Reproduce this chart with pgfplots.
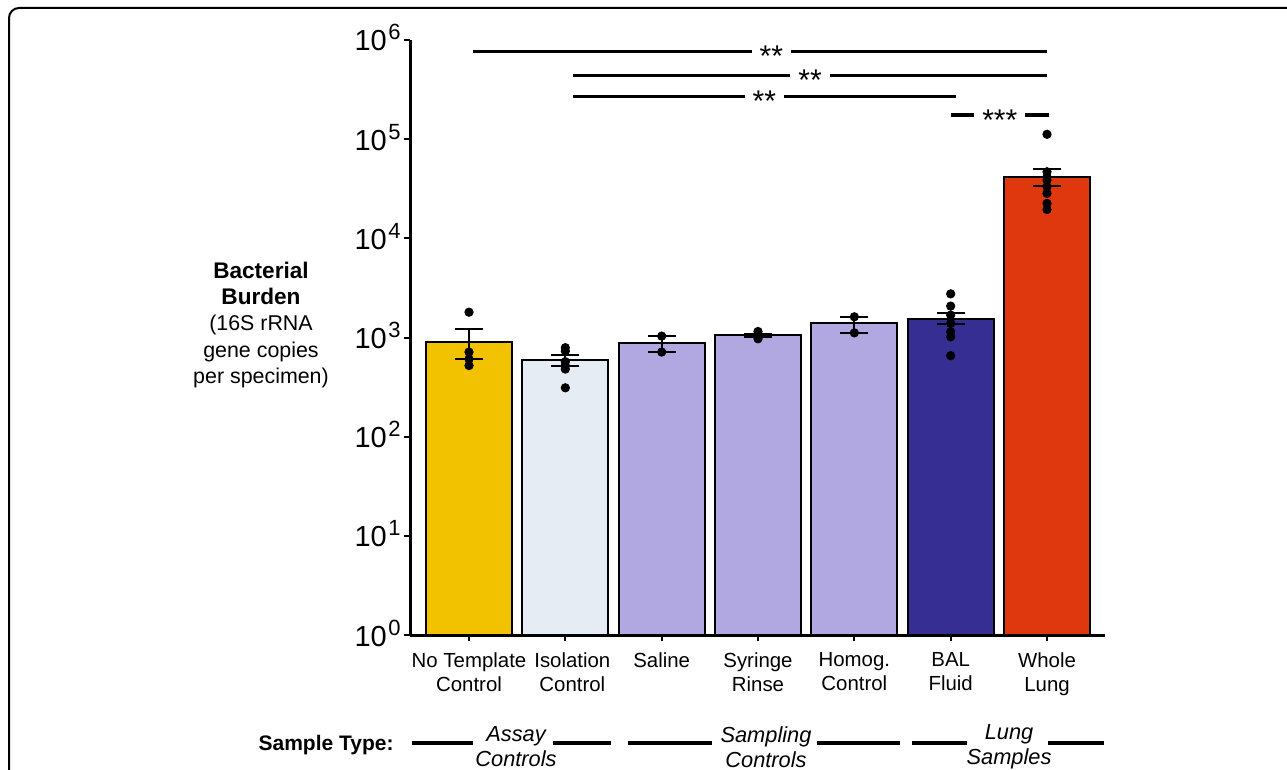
\documentclass[border=0pt]{standalone}
\usepackage{fontspec}
\setmainfont{Liberation Sans}
\usepackage{pgfplots}
\pgfplotsset{compat=1.18}
\definecolor{cGold}{RGB}{242,193,0}
\definecolor{cLight}{RGB}{229,236,244}
\definecolor{cLav}{RGB}{177,167,225}
\definecolor{cNavy}{RGB}{55,46,148}
\definecolor{cRed}{RGB}{224,56,14}
\newcommand{\tp}[1]{10\raisebox{5.5pt}{\fontsize{11}{11}\selectfont\kern0.8pt#1}}
\begin{document}
\begin{tikzpicture}
\useasboundingbox (0,0) rectangle (643.5pt,-385pt);
\begin{scope}[x=0.5pt,y=-0.5pt]
  \draw[line width=1pt, rounded corners=5pt] (9,900) -- (9,8) -- (1400,8);
\end{scope}
\begin{axis}[
 at={(205pt,-317.5pt)}, anchor=south west,
 scale only axis, width=347.5pt, height=297.5pt,
 ymode=log, ymin=1, ymax=1e6,
 xmin=-0.6125, xmax=6.602,
 axis x line*=bottom, axis y line*=left,
 axis line style={line width=1.5pt, -},
 tick align=outside, major tick length=3pt,
 tick style={line width=1pt, black},
 yminorticks=false,
 ytick={1,10,100,1000,10000,100000,1000000},
 yticklabels={\tp{0},\tp{1},\tp{2},\tp{3},\tp{4},\tp{5},\tp{6}},
 yticklabel style={font=\fontsize{14.5}{14.5}\selectfont, anchor=base east, inner sep=0pt, yshift=-5.5pt, xshift=-1.5pt},
 xtick={0,...,6},
 xticklabels={{No Template\\Control},{\hspace{7pt}Isolation\\\hspace{7pt}Control},Saline,{Syringe\\Rinse},{Homog.\\Control},{BAL\\Fluid},{Whole\\Lung}},
 xticklabel style={font=\fontsize{10.2}{12}\selectfont, align=center, anchor=north, inner sep=0pt, yshift=-5.5pt},
 clip=false,
]
% bars
\addplot[ybar, bar width=0.893, bar shift=0pt, fill=cGold, draw=black, line width=1pt] coordinates {(0,900)};
\addplot[ybar, bar width=0.893, bar shift=0pt, fill=cLight, draw=black, line width=1pt] coordinates {(1,592)};
\addplot[ybar, bar width=0.893, bar shift=0pt, fill=cLav, draw=black, line width=1pt] coordinates {(2,879)};
\addplot[ybar, bar width=0.893, bar shift=0pt, fill=cLav, draw=black, line width=1pt] coordinates {(3,1057)};
\addplot[ybar, bar width=0.893, bar shift=0pt, fill=cLav, draw=black, line width=1pt] coordinates {(4,1387)};
\addplot[ybar, bar width=0.893, bar shift=0pt, fill=cNavy, draw=black, line width=1pt] coordinates {(5,1544)};
\addplot[ybar, bar width=0.893, bar shift=0pt, fill=cRed, draw=black, line width=1pt] coordinates {(6,41700)};
% error bars (SEM)
\pgfplotsset{errb/.style={black, line width=1pt, mark=-, mark size=7pt, mark options={line width=1pt}}}
\addplot[errb] coordinates {(0,606) (0,1216)};
\addplot[errb] coordinates {(1,517) (1,665)};
\addplot[errb] coordinates {(2,713) (2,1033)};
\addplot[errb] coordinates {(3,1016) (3,1089)};
\addplot[errb] coordinates {(4,1114) (4,1617)};
\addplot[errb] coordinates {(5,1355) (5,1750)};
\addplot[errb] coordinates {(6,33400) (6,49900)};
% individual points
\addplot[only marks, mark=*, mark size=2.1pt, black] coordinates {
 (0,1800) (0,713) (0,606) (0,521)
 (1,790) (1,730) (1,570) (1,520) (1,480) (1,311)
 (2,1033) (2,713)
 (3,1150) (3,1080) (3,1020) (3,970)
 (4,1617) (4,1114)
 (5,2755) (5,2073) (5,1682) (5,1387) (5,1142) (5,1016) (5,655)
 (6,112000) (6,46900) (6,41700) (6,38600) (6,33100) (6,28400) (6,22500) (6,19500)
};
% significance brackets
\tikzset{sig/.style={fill=white, inner xsep=4pt, inner ysep=1pt, font=\fontsize{15}{15}\selectfont, yshift=-2.5pt}}
\draw[line width=1.6pt] (axis cs:0.04,7.7e5) -- (axis cs:6.0,7.7e5) node[pos=0.52, sig] {**};
\draw[line width=1.6pt] (axis cs:1.08,4.42e5) -- (axis cs:6.0,4.42e5) node[midway, sig] {**};
\draw[line width=1.6pt] (axis cs:1.08,2.71e5) -- (axis cs:5.05,2.71e5) node[midway, sig] {**};
\draw[line width=1.6pt] (axis cs:5.0,1.75e5) -- (axis cs:6.02,1.75e5) node[midway, sig] {***};
\end{axis}
\begin{scope}[x=0.5pt,y=-0.5pt]
  % y label
  \node[align=center, font=\fontsize{10.7}{13.2}\selectfont] at (261,325)
   {\textbf{\fontsize{11.3}{13.2}\selectfont Bacterial}\\\textbf{\fontsize{11.3}{13.2}\selectfont Burden}\\(16S rRNA\\gene copies\\per specimen)};
  % sample type row
  \node[anchor=east, inner sep=0pt, font=\bfseries\fontsize{10.5}{12}\selectfont] at (394,745) {Sample Type:};
  \foreach \a/\b in {412/473, 553/611, 628/712, 817/900, 912/967, 1048/1104}
    \draw[line width=1.6pt] (\a,743) -- (\b,743);
  \node[align=center, font=\itshape\fontsize{10.9}{12.5}\selectfont] at (516,747) {Assay\\Controls};
  \node[align=center, font=\itshape\fontsize{10.9}{12.5}\selectfont] at (766,747) {Sampling\\Controls};
  \node[align=center, font=\itshape\fontsize{10.9}{12.5}\selectfont] at (1009,747) {Lung\\Samples};
\end{scope}
\end{tikzpicture}
\end{document}
